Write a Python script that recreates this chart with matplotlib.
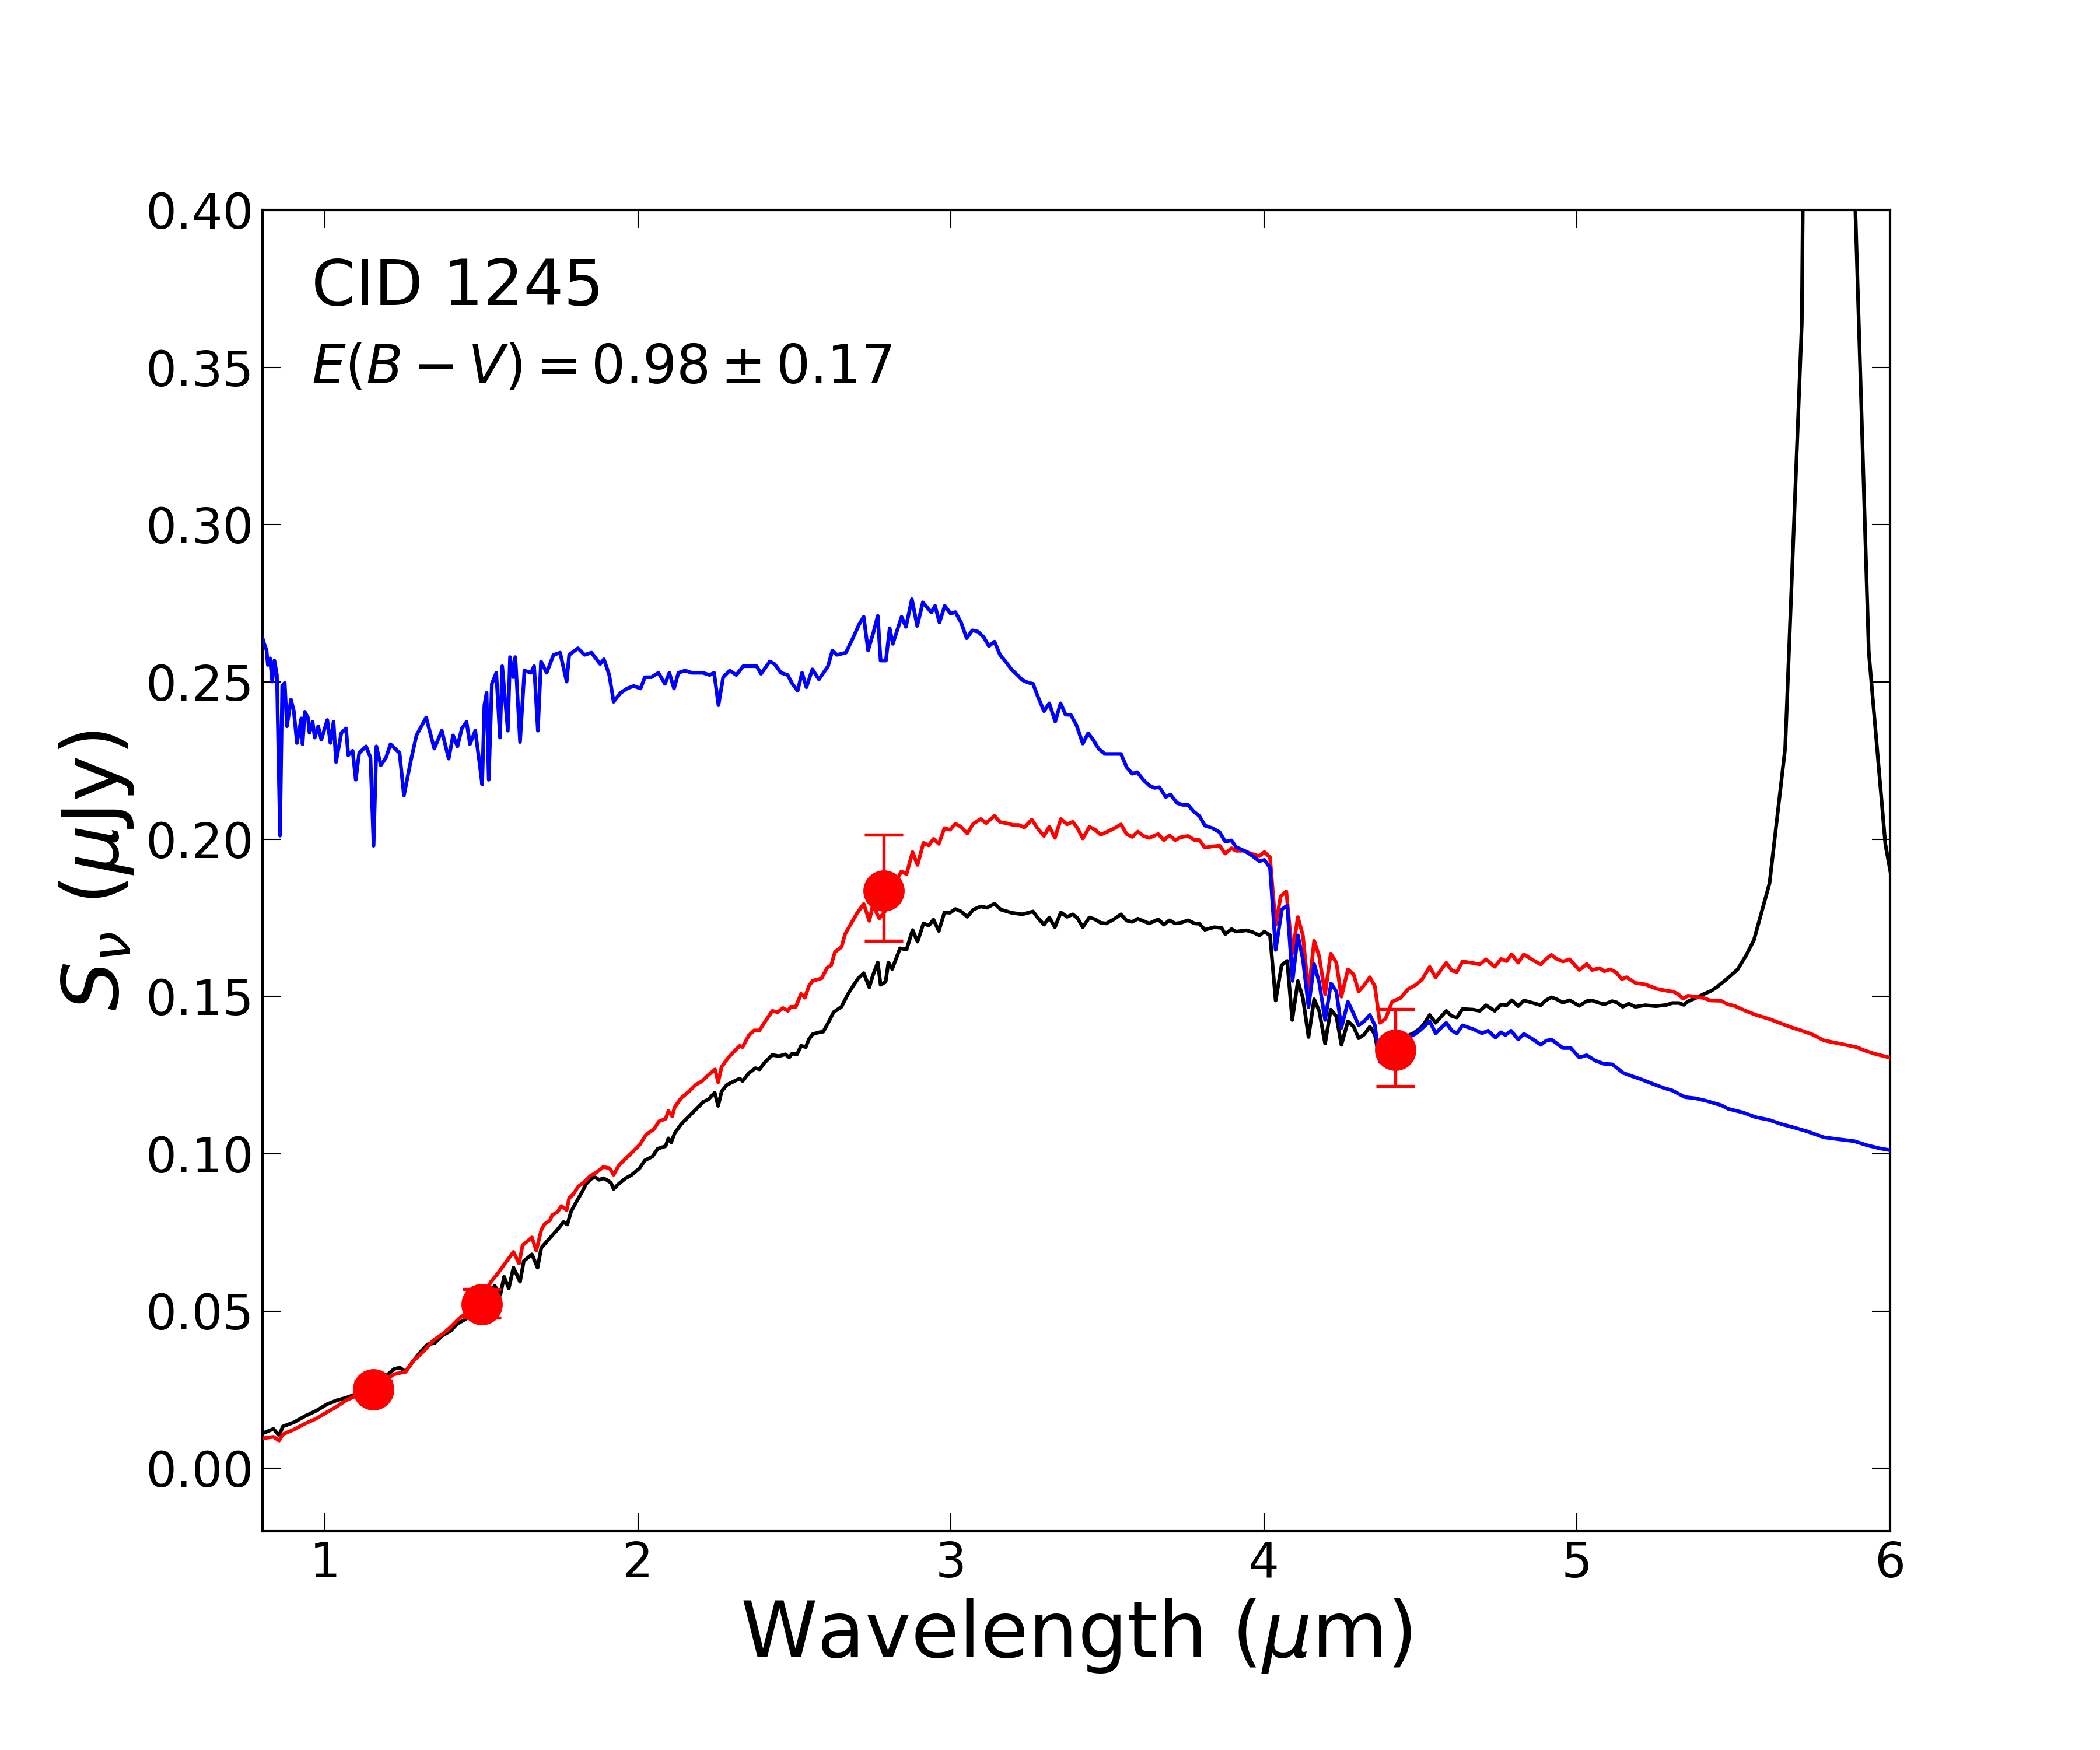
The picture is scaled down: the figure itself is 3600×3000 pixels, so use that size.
import matplotlib
matplotlib.use("Agg")
import matplotlib.pyplot as plt

# ---------------- data ----------------
BLUE_WL = [0.800, 0.803, 0.813, 0.817, 0.824, 0.831, 0.838, 0.846, 0.856, 0.863, 0.871, 0.878, 0.891, 0.900,
           0.910, 0.924, 0.928, 0.935, 0.945, 0.950, 0.960, 0.967, 0.978, 0.988, 1.007, 1.017, 1.027, 1.035,
           1.052, 1.067, 1.074, 1.088, 1.098, 1.109, 1.131, 1.145, 1.155, 1.164, 1.178, 1.195, 1.209, 1.238,
           1.252, 1.273, 1.292, 1.323, 1.349, 1.373, 1.395, 1.409, 1.423, 1.437, 1.452, 1.463, 1.480, 1.494,
           1.502, 1.509, 1.516, 1.523, 1.533, 1.547, 1.559, 1.566, 1.584, 1.591, 1.601, 1.608, 1.623, 1.637,
           1.658, 1.668, 1.680, 1.690, 1.708, 1.730, 1.751, 1.772, 1.780, 1.808, 1.829, 1.851, 1.879, 1.891,
           1.908, 1.922, 1.944, 1.965, 1.986, 2.008, 2.022, 2.043, 2.065, 2.086, 2.100, 2.115, 2.129, 2.150,
           2.172, 2.207, 2.229, 2.243, 2.257, 2.272, 2.293, 2.314, 2.336, 2.357, 2.379, 2.393, 2.421, 2.436,
           2.457, 2.478, 2.493, 2.510, 2.524, 2.538, 2.557, 2.578, 2.607, 2.621, 2.635, 2.664, 2.685, 2.706,
           2.721, 2.735, 2.752, 2.766, 2.775, 2.792, 2.804, 2.814, 2.842, 2.856, 2.875, 2.892, 2.910, 2.937,
           2.949, 2.963, 2.980, 2.999, 3.014, 3.032, 3.050, 3.068, 3.086, 3.104, 3.121, 3.139, 3.157, 3.175,
           3.193, 3.211, 3.228, 3.246, 3.262, 3.276, 3.297, 3.314, 3.333, 3.350, 3.366, 3.383, 3.401, 3.421,
           3.438, 3.454, 3.472, 3.492, 3.543, 3.561, 3.579, 3.595, 3.615, 3.633, 3.650, 3.666, 3.686, 3.701,
           3.722, 3.740, 3.757, 3.775, 3.793, 3.811, 3.835, 3.858, 3.876, 3.896, 3.910, 3.937, 3.958, 3.985,
           4.001, 4.019, 4.037, 4.057, 4.074, 4.091, 4.108, 4.124, 4.142, 4.160, 4.176, 4.195, 4.214, 4.231,
           4.247, 4.268, 4.286, 4.302, 4.320, 4.338, 4.354, 4.370, 4.395, 4.450, 4.477, 4.497, 4.511, 4.529,
           4.548, 4.582, 4.600, 4.616, 4.634, 4.668, 4.696, 4.716, 4.739, 4.757, 4.771, 4.789, 4.812, 4.830,
           4.860, 4.884, 4.901, 4.918, 4.955, 4.980, 5.007, 5.031, 5.058, 5.085, 5.113, 5.147, 5.174, 5.201,
           5.242, 5.277, 5.304, 5.345, 5.379, 5.413, 5.461, 5.482, 5.530, 5.571, 5.612, 5.653, 5.694, 5.735,
           5.789, 5.851, 5.885, 5.926, 5.967, 6.001]
BLUE_FLUX = [0.2640, 0.2628, 0.2600, 0.2554, 0.2575, 0.2501, 0.2568, 0.2522, 0.2011, 0.2487, 0.2497, 0.2359,
             0.2444, 0.2408, 0.2306, 0.2384, 0.2302, 0.2405, 0.2387, 0.2338, 0.2373, 0.2323, 0.2359, 0.2316,
             0.2379, 0.2306, 0.2373, 0.2245, 0.2338, 0.2352, 0.2267, 0.2281, 0.2189, 0.2274, 0.2295, 0.2260,
             0.1979, 0.2295, 0.2235, 0.2260, 0.2302, 0.2274, 0.2139, 0.2245, 0.2330, 0.2387, 0.2288, 0.2345,
             0.2256, 0.2330, 0.2295, 0.2352, 0.2373, 0.2302, 0.2345, 0.2238, 0.2174, 0.2426, 0.2465, 0.2189,
             0.2494, 0.2529, 0.2323, 0.2550, 0.2345, 0.2579, 0.2515, 0.2579, 0.2309, 0.2536, 0.2529, 0.2550,
             0.2345, 0.2565, 0.2529, 0.2586, 0.2593, 0.2501, 0.2586, 0.2607, 0.2586, 0.2593, 0.2557, 0.2572,
             0.2522, 0.2437, 0.2465, 0.2479, 0.2487, 0.2479, 0.2515, 0.2515, 0.2529, 0.2494, 0.2529, 0.2479,
             0.2529, 0.2536, 0.2529, 0.2529, 0.2522, 0.2529, 0.2426, 0.2515, 0.2536, 0.2522, 0.2550, 0.2550,
             0.2550, 0.2526, 0.2565, 0.2557, 0.2529, 0.2522, 0.2494, 0.2472, 0.2529, 0.2483, 0.2540, 0.2508,
             0.2550, 0.2600, 0.2586, 0.2593, 0.2636, 0.2682, 0.2707, 0.2600, 0.2657, 0.2710, 0.2568, 0.2568,
             0.2671, 0.2621, 0.2707, 0.2675, 0.2763, 0.2678, 0.2753, 0.2721, 0.2742, 0.2689, 0.2742, 0.2717,
             0.2722, 0.2689, 0.2639, 0.2664, 0.2660, 0.2643, 0.2614, 0.2628, 0.2585, 0.2564, 0.2540, 0.2523,
             0.2506, 0.2498, 0.2494, 0.2457, 0.2407, 0.2432, 0.2374, 0.2432, 0.2396, 0.2395, 0.2362, 0.2304,
             0.2337, 0.2316, 0.2287, 0.2271, 0.2271, 0.2229, 0.2208, 0.2213, 0.2188, 0.2171, 0.2163, 0.2165,
             0.2134, 0.2142, 0.2115, 0.2109, 0.2109, 0.2088, 0.2074, 0.2043, 0.2035, 0.2022, 0.1992, 0.1996,
             0.1975, 0.1963, 0.1950, 0.1930, 0.1934, 0.1909, 0.1648, 0.1777, 0.1789, 0.1549, 0.1694, 0.1619,
             0.1466, 0.1603, 0.1545, 0.1425, 0.1541, 0.1516, 0.1400, 0.1483, 0.1445, 0.1408, 0.1421, 0.1441,
             0.1408, 0.1292, 0.1329, 0.1367, 0.1377, 0.1391, 0.1404, 0.1421, 0.1383, 0.1416, 0.1391, 0.1383,
             0.1408, 0.1396, 0.1383, 0.1391, 0.1369, 0.1386, 0.1377, 0.1391, 0.1363, 0.1381, 0.1363, 0.1346,
             0.1359, 0.1363, 0.1336, 0.1336, 0.1306, 0.1313, 0.1296, 0.1286, 0.1284, 0.1257, 0.1247, 0.1238,
             0.1222, 0.1209, 0.1201, 0.1180, 0.1176, 0.1168, 0.1154, 0.1143, 0.1131, 0.1116, 0.1108, 0.1094,
             0.1083, 0.1071, 0.1052, 0.1044, 0.1040, 0.1027, 0.1017, 0.1011]

RED_WL = [0.800, 0.805, 0.835, 0.853, 0.865, 0.900, 0.936, 0.972, 1.007, 1.037, 1.067, 1.096, 1.138, 1.186,
          1.221, 1.257, 1.281, 1.316, 1.346, 1.376, 1.400, 1.429, 1.459, 1.495, 1.530, 1.554, 1.572, 1.602,
          1.620, 1.631, 1.661, 1.675, 1.691, 1.701, 1.718, 1.726, 1.743, 1.755, 1.772, 1.780, 1.793, 1.809,
          1.826, 1.847, 1.868, 1.889, 1.909, 1.922, 1.938, 1.959, 1.980, 2.005, 2.026, 2.051, 2.067, 2.088,
          2.097, 2.109, 2.117, 2.138, 2.163, 2.184, 2.205, 2.221, 2.246, 2.256, 2.267, 2.288, 2.304, 2.325,
          2.334, 2.354, 2.371, 2.388, 2.404, 2.429, 2.446, 2.463, 2.479, 2.488, 2.504, 2.521, 2.533, 2.546,
          2.558, 2.575, 2.587, 2.604, 2.617, 2.629, 2.650, 2.662, 2.683, 2.700, 2.721, 2.739, 2.750, 2.771,
          2.791, 2.820, 2.841, 2.858, 2.877, 2.893, 2.912, 2.929, 2.944, 2.961, 2.979, 2.997, 3.014, 3.032,
          3.052, 3.071, 3.095, 3.112, 3.139, 3.157, 3.175, 3.199, 3.217, 3.234, 3.258, 3.276, 3.297, 3.314,
          3.332, 3.351, 3.371, 3.389, 3.404, 3.421, 3.442, 3.460, 3.478, 3.496, 3.523, 3.543, 3.561, 3.579,
          3.597, 3.615, 3.633, 3.662, 3.680, 3.698, 3.716, 3.734, 3.757, 3.778, 3.793, 3.811, 3.835, 3.858,
          3.876, 3.896, 3.910, 3.937, 3.958, 3.985, 4.001, 4.019, 4.037, 4.053, 4.071, 4.090, 4.108, 4.124,
          4.142, 4.160, 4.176, 4.195, 4.213, 4.231, 4.247, 4.268, 4.286, 4.302, 4.320, 4.338, 4.354, 4.370,
          4.388, 4.409, 4.436, 4.461, 4.484, 4.504, 4.529, 4.548, 4.582, 4.600, 4.616, 4.634, 4.662, 4.689,
          4.709, 4.737, 4.757, 4.775, 4.791, 4.812, 4.830, 4.860, 4.884, 4.901, 4.918, 4.935, 4.955, 4.976,
          5.007, 5.031, 5.048, 5.072, 5.087, 5.106, 5.124, 5.143, 5.158, 5.186, 5.218, 5.255, 5.286, 5.308,
          5.323, 5.339, 5.354, 5.379, 5.404, 5.426, 5.460, 5.481, 5.503, 5.534, 5.572, 5.615, 5.646, 5.684,
          5.721, 5.752, 5.789, 5.833, 5.858, 5.892, 5.919, 5.953, 6.001]
RED_FLUX = [0.0094, 0.0096, 0.0100, 0.0088, 0.0108, 0.0123, 0.0142, 0.0158, 0.0179, 0.0196, 0.0216, 0.0229,
            0.0254, 0.0278, 0.0299, 0.0307, 0.0340, 0.0373, 0.0407, 0.0427, 0.0448, 0.0477, 0.0498, 0.0527,
            0.0593, 0.0622, 0.0647, 0.0688, 0.0651, 0.0709, 0.0734, 0.0692, 0.0758, 0.0776, 0.0788, 0.0805,
            0.0815, 0.0834, 0.0821, 0.0859, 0.0871, 0.0896, 0.0908, 0.0929, 0.0941, 0.0958, 0.0954, 0.0933,
            0.0962, 0.0983, 0.1003, 0.1028, 0.1061, 0.1078, 0.1103, 0.1111, 0.1136, 0.1119, 0.1148, 0.1177,
            0.1198, 0.1219, 0.1231, 0.1247, 0.1268, 0.1227, 0.1276, 0.1305, 0.1322, 0.1343, 0.1339, 0.1376,
            0.1392, 0.1392, 0.1417, 0.1454, 0.1450, 0.1463, 0.1454, 0.1467, 0.1467, 0.1508, 0.1496, 0.1533,
            0.1550, 0.1554, 0.1558, 0.1591, 0.1599, 0.1641, 0.1657, 0.1699, 0.1736, 0.1765, 0.1794, 0.1740,
            0.1790, 0.1748, 0.1773, 0.1856, 0.1897, 0.1889, 0.1959, 0.1918, 0.1988, 0.1980, 0.2001, 0.1985,
            0.2035, 0.2030, 0.2049, 0.2039, 0.2018, 0.2049, 0.2064, 0.2051, 0.2074, 0.2054, 0.2051, 0.2045,
            0.2045, 0.2037, 0.2062, 0.2035, 0.2010, 0.2040, 0.2004, 0.2064, 0.2047, 0.2055, 0.2035, 0.2002,
            0.2039, 0.2030, 0.2014, 0.2022, 0.2035, 0.2047, 0.2016, 0.2007, 0.2024, 0.2010, 0.2004, 0.2016,
            0.1997, 0.2012, 0.1997, 0.2006, 0.2010, 0.1997, 0.1997, 0.1973, 0.1977, 0.1979, 0.1954, 0.1971,
            0.1963, 0.1963, 0.1954, 0.1946, 0.1959, 0.1942, 0.1727, 0.1818, 0.1834, 0.1636, 0.1752, 0.1694,
            0.1512, 0.1677, 0.1628, 0.1507, 0.1636, 0.1607, 0.1499, 0.1586, 0.1570, 0.1516, 0.1536, 0.1561,
            0.1532, 0.1416, 0.1429, 0.1483, 0.1495, 0.1524, 0.1536, 0.1553, 0.1594, 0.1561, 0.1607, 0.1582,
            0.1578, 0.1611, 0.1607, 0.1602, 0.1618, 0.1594, 0.1619, 0.1612, 0.1634, 0.1607, 0.1634, 0.1615,
            0.1602, 0.1619, 0.1632, 0.1619, 0.1611, 0.1618, 0.1584, 0.1603, 0.1584, 0.1590, 0.1580, 0.1586,
            0.1577, 0.1555, 0.1561, 0.1543, 0.1538, 0.1524, 0.1518, 0.1515, 0.1507, 0.1493, 0.1502, 0.1499,
            0.1495, 0.1487, 0.1486, 0.1475, 0.1470, 0.1456, 0.1441, 0.1428, 0.1416, 0.1402, 0.1390, 0.1379,
            0.1360, 0.1351, 0.1346, 0.1339, 0.1328, 0.1317, 0.1305]

BLACK_WL = [0.800, 0.805, 0.835, 0.853, 0.865, 0.900, 0.936, 0.972, 1.007, 1.037, 1.067, 1.096, 1.138, 1.192,
            1.221, 1.239, 1.257, 1.281, 1.304, 1.328, 1.350, 1.376, 1.400, 1.423, 1.447, 1.483, 1.518, 1.542,
            1.560, 1.572, 1.587, 1.602, 1.623, 1.635, 1.661, 1.679, 1.691, 1.720, 1.742, 1.762, 1.774, 1.786,
            1.804, 1.822, 1.834, 1.851, 1.863, 1.876, 1.889, 1.901, 1.913, 1.922, 1.938, 1.959, 1.980, 2.005,
            2.022, 2.046, 2.063, 2.088, 2.097, 2.106, 2.117, 2.138, 2.163, 2.184, 2.209, 2.225, 2.245, 2.256,
            2.267, 2.284, 2.300, 2.325, 2.334, 2.354, 2.375, 2.388, 2.404, 2.429, 2.450, 2.471, 2.483, 2.492,
            2.508, 2.521, 2.536, 2.546, 2.558, 2.579, 2.592, 2.608, 2.625, 2.650, 2.671, 2.687, 2.704, 2.721,
            2.739, 2.750, 2.766, 2.775, 2.791, 2.800, 2.812, 2.837, 2.858, 2.877, 2.893, 2.912, 2.929, 2.944,
            2.961, 2.979, 2.997, 3.014, 3.032, 3.052, 3.071, 3.095, 3.115, 3.139, 3.159, 3.193, 3.228, 3.262,
            3.278, 3.297, 3.314, 3.332, 3.351, 3.371, 3.389, 3.404, 3.421, 3.442, 3.460, 3.478, 3.496, 3.520,
            3.543, 3.561, 3.579, 3.597, 3.633, 3.662, 3.680, 3.698, 3.716, 3.734, 3.757, 3.778, 3.793, 3.811,
            3.841, 3.864, 3.876, 3.896, 3.910, 3.944, 3.964, 3.985, 4.001, 4.019, 4.037, 4.056, 4.074, 4.090,
            4.108, 4.124, 4.142, 4.160, 4.176, 4.195, 4.213, 4.231, 4.247, 4.268, 4.286, 4.302, 4.320, 4.338,
            4.354, 4.370, 4.395, 4.450, 4.477, 4.497, 4.511, 4.529, 4.548, 4.582, 4.600, 4.616, 4.634, 4.668,
            4.689, 4.709, 4.737, 4.757, 4.775, 4.791, 4.812, 4.830, 4.860, 4.884, 4.901, 4.918, 4.935, 4.955,
            4.976, 5.007, 5.031, 5.048, 5.072, 5.087, 5.112, 5.127, 5.146, 5.165, 5.186, 5.218, 5.252, 5.286,
            5.304, 5.326, 5.341, 5.354, 5.379, 5.404, 5.429, 5.447, 5.478, 5.513, 5.541, 5.565, 5.615, 5.665,
            5.718, 5.770, 5.823, 5.877, 5.932, 5.985, 6.037]
BLACK_FLUX = [0.0111, 0.0113, 0.0125, 0.0104, 0.0133, 0.0146, 0.0166, 0.0183, 0.0204, 0.0216, 0.0224, 0.0235,
              0.0254, 0.0291, 0.0316, 0.0320, 0.0307, 0.0340, 0.0369, 0.0394, 0.0398, 0.0423, 0.0436, 0.0460,
              0.0473, 0.0502, 0.0539, 0.0580, 0.0551, 0.0609, 0.0572, 0.0638, 0.0593, 0.0659, 0.0680, 0.0638,
              0.0701, 0.0734, 0.0758, 0.0783, 0.0775, 0.0816, 0.0849, 0.0880, 0.0904, 0.0921, 0.0925, 0.0917,
              0.0922, 0.0916, 0.0908, 0.0888, 0.0904, 0.0921, 0.0933, 0.0954, 0.0979, 0.0991, 0.1016, 0.1024,
              0.1049, 0.1036, 0.1065, 0.1094, 0.1119, 0.1140, 0.1165, 0.1173, 0.1194, 0.1152, 0.1198, 0.1219,
              0.1227, 0.1239, 0.1231, 0.1256, 0.1272, 0.1268, 0.1289, 0.1314, 0.1310, 0.1316, 0.1306, 0.1318,
              0.1316, 0.1343, 0.1339, 0.1364, 0.1380, 0.1386, 0.1388, 0.1417, 0.1450, 0.1467, 0.1508, 0.1533,
              0.1558, 0.1574, 0.1529, 0.1566, 0.1608, 0.1537, 0.1546, 0.1608, 0.1587, 0.1653, 0.1649, 0.1711,
              0.1674, 0.1732, 0.1725, 0.1744, 0.1708, 0.1767, 0.1766, 0.1778, 0.1770, 0.1753, 0.1776, 0.1786,
              0.1782, 0.1795, 0.1776, 0.1766, 0.1761, 0.1770, 0.1749, 0.1728, 0.1751, 0.1720, 0.1767, 0.1753,
              0.1761, 0.1749, 0.1720, 0.1751, 0.1745, 0.1734, 0.1732, 0.1745, 0.1761, 0.1741, 0.1737, 0.1747,
              0.1732, 0.1745, 0.1728, 0.1742, 0.1732, 0.1734, 0.1742, 0.1732, 0.1731, 0.1712, 0.1720, 0.1718,
              0.1698, 0.1714, 0.1706, 0.1710, 0.1704, 0.1694, 0.1706, 0.1694, 0.1487, 0.1599, 0.1613, 0.1425,
              0.1549, 0.1495, 0.1371, 0.1491, 0.1454, 0.1350, 0.1458, 0.1437, 0.1346, 0.1421, 0.1404, 0.1367,
              0.1379, 0.1404, 0.1379, 0.1292, 0.1329, 0.1371, 0.1383, 0.1397, 0.1412, 0.1441, 0.1416, 0.1454,
              0.1437, 0.1433, 0.1460, 0.1458, 0.1454, 0.1472, 0.1454, 0.1474, 0.1472, 0.1488, 0.1469, 0.1487,
              0.1479, 0.1472, 0.1488, 0.1497, 0.1491, 0.1480, 0.1488, 0.1470, 0.1485, 0.1487, 0.1479, 0.1475,
              0.1485, 0.1481, 0.1467, 0.1477, 0.1467, 0.1472, 0.1469, 0.1473, 0.1479, 0.1479, 0.1473, 0.1484,
              0.1495, 0.1507, 0.1518, 0.1530, 0.1555, 0.1586, 0.1632, 0.1679, 0.1860, 0.2290, 0.3639, 0.9700,
              1.1000, 0.4400, 0.2596, 0.1984, 0.1700]

PHOT_WL = [1.154, 1.500, 2.785, 4.420]
PHOT_FLUX = [0.0251, 0.0522, 0.1836, 0.1329]
PHOT_ERR_LO = [0.0022, 0.0043, 0.0160, 0.0115]
PHOT_ERR_HI = [0.0027, 0.0048, 0.0178, 0.0131]

X_TICKS = [1, 2, 3, 4, 5, 6]
Y_TICKS = [0.00, 0.05, 0.10, 0.15, 0.20, 0.25, 0.30, 0.35, 0.40]

# ---------------- figure ----------------
fig = plt.figure(figsize=(12, 10), dpi=300)
fig.subplots_adjust(left=0.125, right=0.9, bottom=0.125, top=0.88)
ax = fig.add_subplot(111)

ax.plot(BLACK_WL, BLACK_FLUX, color='black', lw=1.5, zorder=2)
ax.plot(RED_WL, RED_FLUX, color='red', lw=1.5, zorder=3)
ax.plot(BLUE_WL, BLUE_FLUX, color='blue', lw=1.5, zorder=4)
ax.errorbar(PHOT_WL, PHOT_FLUX, yerr=[PHOT_ERR_LO, PHOT_ERR_HI], fmt='o', color='red',
            ms=16, capsize=8, elinewidth=1.3, capthick=1.3, zorder=5)

ax.set_xlim(0.8, 6.0)
ax.set_ylim(-0.02, 0.40)
ax.set_xticks(X_TICKS)
ax.set_xticklabels([str(t) for t in X_TICKS])
ax.set_yticks(Y_TICKS)
ax.set_yticklabels(['%.2f' % t for t in Y_TICKS])
ax.tick_params(direction='in', top=True, right=True, length=7.5, width=0.5, labelsize=20)
for s in ax.spines.values():
    s.set_linewidth(1.0)

ax.set_xlabel(r'Wavelength ($\mu$m)', fontsize=32)
ax.set_ylabel(r'$S_\nu$ ($\mu$Jy)', fontsize=32)

ax.text(0.03, 0.928, 'CID 1245', transform=ax.transAxes, fontsize=26, va='baseline', ha='left')
ax.text(0.03, 0.869, r'$E(B-V) = 0.98 \pm 0.17$', transform=ax.transAxes, fontsize=22,
        va='baseline', ha='left')

fig.savefig('out.png', dpi=300)
